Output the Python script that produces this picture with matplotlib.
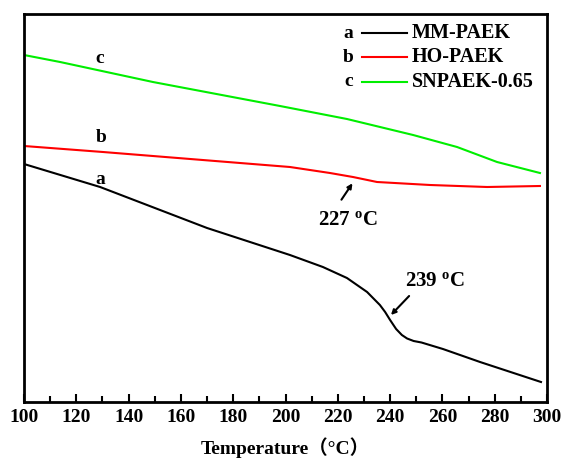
import matplotlib
matplotlib.use('Agg')
import matplotlib.pyplot as plt
from matplotlib.ticker import MultipleLocator

plt.rcParams['font.family'] = ['Liberation Serif', 'Noto Sans CJK SC']
plt.rcParams['font.weight'] = 'bold'
plt.rcParams['mathtext.fontset'] = 'custom'
plt.rcParams['mathtext.rm'] = 'Liberation Serif:bold'
plt.rcParams['mathtext.it'] = 'Liberation Serif:bold'

# curve a: MM-PAEK (arbitrary y units)
temp_a = [100, 129.1, 170.0, 201.7, 214.3, 223.5, 231.2, 236.1, 238.1, 240.0, 242.3,
          244.5, 246.5, 249.0, 252.0, 260.2, 274.4, 297.7]
val_a = [238, 215, 174, 147, 135, 124, 110, 97, 90, 82, 73, 67, 63.5, 61, 59.5, 53, 40, 20]

# curve b: HO-PAEK
temp_b = [100, 130.2, 201.7, 217.0, 225.8, 235.0, 255.3, 277.1, 297.3]
val_b = [256, 250, 235, 229, 225, 220, 217, 215, 216]

# curve c: SNPAEK-0.65
temp_c = [100, 113.8, 149.3, 197.9, 223.5, 248.8, 265.6, 280.9, 297.3]
val_c = [347, 340, 320, 296, 283, 267, 255, 240, 229]

letters = ['a', 'b', 'c']
names = ['MM-PAEK', 'HO-PAEK', 'SNPAEK-0.65']
colors = ['black', 'red', '#00ee00']

fig = plt.figure(figsize=(5.64, 4.58), dpi=100)
ax = fig.add_axes([24 / 564, 56 / 458, 523 / 564, 388 / 458])

for t, v, col in zip([temp_a, temp_b, temp_c], [val_a, val_b, val_c], colors):
    ax.plot(t, v, color=col, linewidth=1.5)

ax.set_xlim(100, 300)
ax.set_ylim(0, 388)
ax.xaxis.set_major_locator(MultipleLocator(20))
ax.xaxis.set_minor_locator(MultipleLocator(10))
ax.tick_params(axis='x', which='major', direction='in', length=6, width=1.5,
               labelsize=14, pad=5)
ax.tick_params(axis='x', which='minor', direction='in', length=4, width=1.5)
ax.set_yticks([])
for lbl in ax.get_xticklabels():
    lbl.set_fontweight('bold')
for sp in ax.spines.values():
    sp.set_linewidth(2)

ax.set_xlabel('Temperature（°C）', fontsize=14, fontweight='bold', labelpad=8)

# curve letters
ax.text(129.1, 344, 'c', fontsize=14, ha='center', va='center')
ax.text(129.6, 265, 'b', fontsize=14, ha='center', va='center')
ax.text(129.1, 222, 'a', fontsize=14, ha='center', va='center')

# legend drawn by hand
rows = [0.951, 0.889, 0.825]
for letter, name, col, yy in zip(letters, names, colors, rows):
    ax.text(0.620, yy, letter, transform=ax.transAxes, fontsize=14, ha='center', va='center')
    ax.plot([0.646, 0.732], [yy, yy], transform=ax.transAxes, color=col, linewidth=1.5)
    ax.text(0.742, yy, name, transform=ax.transAxes, fontsize=14.5, ha='left', va='center')

# transition annotations
ax.annotate('', xy=(226.2, 221), xytext=(220.8, 200),
            arrowprops=dict(arrowstyle='-|>', color='black', lw=1.5, mutation_scale=7))
ax.text(223.9, 182, '227 $^{o}$C', fontsize=15, ha='center', va='center')
ax.annotate('', xy=(239.6, 85), xytext=(248.0, 108),
            arrowprops=dict(arrowstyle='-|>', color='black', lw=1.5, mutation_scale=7))
ax.text(257.2, 121, '239 $^{o}$C', fontsize=15, ha='center', va='center')

fig.savefig('out.png', dpi=100)
